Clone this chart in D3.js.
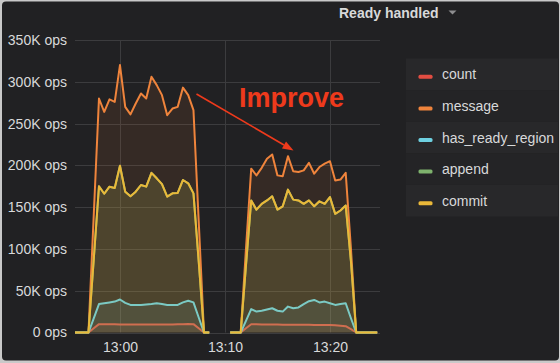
<!DOCTYPE html>
<html><head><meta charset="utf-8">
<script src="https://cdn.jsdelivr.net/npm/d3@7"></script>
<style>
html,body{margin:0;padding:0;background:#c9c9c9;}
svg{display:block;}
</style></head>
<body>
<svg id="chart" width="560" height="363"></svg>
<script>
// ---- data (values in ops; null = no data) ----
const startTime = "2020-01-01T12:55:30";   // first sample, 30s steps
const stepSeconds = 30;
const seriesNames = ["count", "message", "has_ready_region", "append", "commit"];
const seriesColors = ["#e24d42", "#ef843c", "#6ed0e0", "#7eb26d", "#eab839"];

const count = [0,0,0,0,5,
  10,10,9.8,9.8,9.7,9.6,9.5,9.5,9.5,9.5,9.5,9.6,9.6,9.6,9.7,9.8,10,10.2,10,
  5,0,0,null,null,null,0,0,0,5,
  9.8,9.8,9.6,9.6,9.5,9.5,9.4,9.4,9.3,9.3,9.2,9.2,9.1,9.1,9,9,8.8,8.2,7.5,
  4,0,0,0,0,0];
const message = [0,0,0,0,140,
  280,264,279,276,320,270,261,274,286,280,306,296,284,260,268,270,293,284,266,
  133,0,0,null,null,null,0,0,0,100,
  196,188,197,208,213,188,187,211,193,192,194,203,190,198,202,205,182,183,191,
  100,0,0,0,0,0];
const hasReadyRegion = [0,0,0,0,17,
  34,35,36,37,39.5,35.5,33,33,33,33.5,34,35,34,33,33,33,36,38,36,
  18,0,0,null,null,null,0,0,0,14,
  28,25,26,27.5,29,26,25,31,29,30,34,37.5,39,36,37,35,33,34,35,
  17,0,0,0,0,0];
const append = [0,0,0,0,87,
  175,166,174.5,173,199.5,168.5,163,168.5,176.5,174.5,191,184.5,177.5,162.5,166.5,167,182.5,178.5,166.5,
  85,0,0,null,null,null,0,0,0,80,
  158,147,154,158,163,147,151,171,159,158,154,158,151,157,154,162,142,146,152,
  85,0,0,0,0,0];
const commit = [0,0,0,0,87,
  175,166,174.5,173,199.5,168.5,163,168.5,176.5,174.5,191,184.5,177.5,162.5,166.5,167,182.5,178.5,166.5,
  85,0,0,null,null,null,0,0,0,80,
  158,147,154,158,163,147,151,171,159,158,154,158,151,157,154,162,142,146,152,
  85,0,0,0,0,0];
const seriesValues = [count, message, hasReadyRegion, append, commit]; // thousands of ops

const yTicks = [0, 50000, 100000, 150000, 200000, 250000, 300000, 350000];
const xTickLabels = ["13:00", "13:10", "13:20"];
const xDomain = ["2020-01-01T12:55:43", "2020-01-01T13:24:46"];
const titleText = "Ready handled";
const annotationText = "Improve";

// ---- layout ----
const svg = d3.select("#chart");
const plot = {left: 75, right: 380, top: 40, bottom: 332.5};

svg.append("rect").attr("x", 2).attr("y", 1.5).attr("width", 557).attr("height", 359)
  .attr("rx", 4).attr("fill", "#212123");

const t0 = new Date(startTime);
const times = count.map((_, i) => new Date(t0.getTime() + i * stepSeconds * 1000));

const x = d3.scaleTime().domain(xDomain.map(s => new Date(s))).range([plot.left, plot.right]);
const y = d3.scaleLinear().domain([0, 350000]).range([plot.bottom, plot.top]);

// grid
const gridColor = "#3c3c3e";
svg.append("g").selectAll("line").data(yTicks).join("line")
  .attr("x1", plot.left).attr("x2", plot.right)
  .attr("y1", d => Math.round(y(d)) + 0.5).attr("y2", d => Math.round(y(d)) + 0.5)
  .attr("stroke", gridColor).attr("stroke-width", 1);
const xTickDates = xTickLabels.map(s => new Date("2020-01-01T" + s + ":00"));
svg.append("g").selectAll("line").data(xTickDates).join("line")
  .attr("x1", d => Math.round(x(d)) + 0.5).attr("x2", d => Math.round(x(d)) + 0.5)
  .attr("y1", plot.top).attr("y2", plot.bottom)
  .attr("stroke", gridColor).attr("stroke-width", 1);

// axes labels
const fmtY = d => d === 0 ? "0 ops" : (d / 1000) + "K ops";
const yAxis = d3.axisLeft(y).tickValues(yTicks).tickFormat(fmtY).tickSize(0).tickPadding(0);
const gy = svg.append("g").attr("transform", `translate(67,0)`).call(yAxis);
gy.select(".domain").remove();
gy.selectAll("text").attr("fill", "#d8d9da").attr("font-size", 14)
  .attr("font-family", "Liberation Sans, Arial, sans-serif");

const xAxis = d3.axisBottom(x).tickValues(xTickDates).tickFormat(d3.timeFormat("%H:%M")).tickSize(0).tickPadding(0);
const gx = svg.append("g").attr("transform", `translate(0,${plot.bottom + 10})`).call(xAxis);
gx.select(".domain").remove();
gx.selectAll("text").attr("fill", "#d8d9da").attr("font-size", 14)
  .attr("font-family", "Liberation Sans, Arial, sans-serif");

// clip
svg.append("clipPath").attr("id", "clip").append("rect")
  .attr("x", plot.left).attr("y", plot.top - 5).attr("width", plot.right - plot.left).attr("height", plot.bottom - plot.top + 10);

const gSeries = svg.append("g").attr("clip-path", "url(#clip)");
const line = d3.line().defined(d => d.v != null).x(d => x(d.t)).y(d => y(d.v * 1000));
const area = d3.area().defined(d => d.v != null).x(d => x(d.t)).y0(y(0)).y1(d => y(d.v * 1000));

seriesValues.forEach((vals, si) => {
  const pts = vals.map((v, i) => ({t: times[i], v}));
  gSeries.append("path").datum(pts).attr("d", area)
    .attr("fill", seriesColors[si]).attr("fill-opacity", 0.1);
  gSeries.append("path").datum(pts).attr("d", line)
    .attr("fill", "none").attr("stroke", seriesColors[si]).attr("stroke-width", 2)
    .attr("stroke-linejoin", "round");
});

// title
svg.append("text").attr("x", 339).attr("y", 18).text(titleText)
  .attr("fill", "#d8d9da").attr("font-size", 14).attr("font-weight", "bold")
  .attr("font-family", "Liberation Sans, Arial, sans-serif");
svg.append("path").attr("d", "M448.5,10.5 L456.5,10.5 L452.5,14.5 Z").attr("fill", "#8e8e90");

// legend
const legendTop = 58.5, rowH = 31.6;
const lg = svg.append("g");
seriesNames.forEach((name, i) => {
  const ry = legendTop + i * rowH;
  lg.append("rect").attr("x", 406).attr("y", ry).attr("width", 152).attr("height", rowH)
    .attr("fill", i % 2 === 0 ? "#28282a" : "#242426");
  lg.append("rect").attr("x", 418.5).attr("y", ry + rowH / 2 + 0.5).attr("width", 14).attr("height", 4)
    .attr("rx", 1.5).attr("fill", seriesColors[i]);
  lg.append("text").attr("x", 442).attr("y", ry + rowH / 2 + 5).text(name)
    .attr("fill", "#d8d9da").attr("font-size", 14)
    .attr("font-family", "Liberation Sans, Arial, sans-serif");
});

// annotation
const red = "#ee3a1c";
svg.append("text").attr("x", 239).attr("y", 106.5).text(annotationText)
  .attr("fill", red).attr("font-size", 27).attr("font-weight", "bold")
  .attr("font-family", "Liberation Sans, Arial, sans-serif");
const ax1 = 196.5, ay1 = 94, ax2 = 293.5, ay2 = 150.5;
const ang = Math.atan2(ay2 - ay1, ax2 - ax1);
const hl = 11, hw = 4;
const bx = ax2 - hl * Math.cos(ang), by = ay2 - hl * Math.sin(ang);
svg.append("line").attr("x1", ax1).attr("y1", ay1).attr("x2", bx).attr("y2", by)
  .attr("stroke", red).attr("stroke-width", 1.6);
svg.append("path").attr("d", `M${ax2},${ay2} L${bx + hw * Math.sin(ang)},${by - hw * Math.cos(ang)} L${bx - hw * Math.sin(ang)},${by + hw * Math.cos(ang)} Z`)
  .attr("fill", red);
</script>
</body></html>
